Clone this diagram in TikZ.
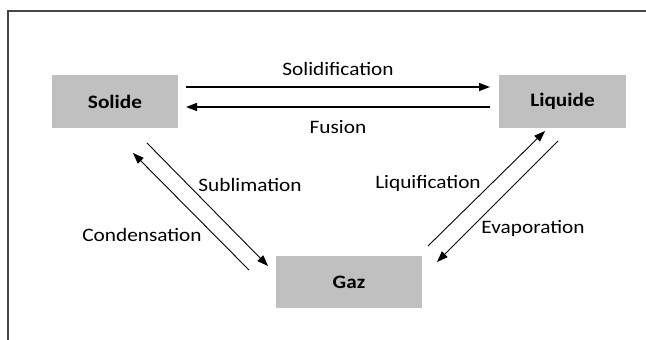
\documentclass[tikz,border=0pt]{standalone}
\usepackage{fontspec}
\setmainfont{Carlito}[FakeStretch=1.12]
\usetikzlibrary{arrows.meta}
\definecolor{boxgray}{RGB}{192,192,192}
\definecolor{framegray}{RGB}{70,70,70}
\begin{document}
\begin{tikzpicture}[x=1pt,y=-1pt,
  state/.style={fill=boxgray, inner sep=0pt, font=\fontsize{19}{22}\selectfont\bfseries},
  lbl/.style={inner sep=0pt, font=\fontsize{19}{22}\selectfont},
  harrow/.style={line width=1.4pt, -{Triangle[length=11pt,width=8pt]}},
  darrow/.style={line width=0.9pt, -{Triangle[length=11pt,width=8pt]}},
  dline/.style={line width=0.9pt}]
\useasboundingbox (0,0) rectangle (646,340);
\draw[framegray, line width=1.5pt] (8,341) -- (8,11) -- (647,11);
\node[state, minimum width=126pt, minimum height=53pt] (Solide) at (115,101.5) {Solide};
\node[state, minimum width=127pt, minimum height=53pt] (Liquide) at (562.5,101.5) {Liquide};
\node[state, minimum width=146pt, minimum height=52pt] (Gaz) at (349,282) {Gaz};
% endpoints
\coordinate (s1) at (186,87); \coordinate (l1) at (490,87);
\coordinate (l2) at (490,107); \coordinate (s2) at (186,107);
\coordinate (g1) at (249,270); \coordinate (s3) at (133,153);
\coordinate (s4) at (147,143); \coordinate (g2) at (268,266);
\coordinate (g3) at (428,246); \coordinate (l3) at (545,131);
\coordinate (l4) at (558,141); \coordinate (g4) at (437,262);
\draw[harrow] (s1) -- (l1);
\draw[harrow] (l2) -- (s2);
\draw[darrow] (g1) -- (s3);
\draw[darrow] (s4) -- (g2);
\draw[darrow] (g3) -- (l3);
\draw[darrow] (l4) -- (g4);
\node[lbl] (tsol) at (338,69) {Solidification};
\node[lbl] (tfus) at (338,127) {Fusion};
\node[lbl] (tsub) at (250,185) {Sublimation};
\node[lbl] (tcon) at (142,235) {Condensation};
\node[lbl] (tliq) at (428,183) {Liquification};
\node[lbl] (tevp) at (533,228) {Evaporation};
\end{tikzpicture}
\end{document}
